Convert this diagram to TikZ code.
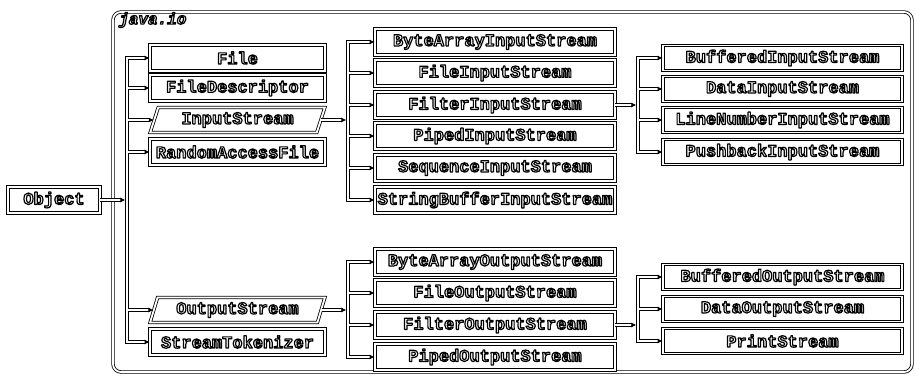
\documentclass[tikz,border=0pt]{standalone}
\usepackage{fontspec}
\setmonofont{Liberation Mono}
\usetikzlibrary{shapes.geometric,arrows.meta}
\newcommand\olt[1]{\special{pdf:code q 1 g 0 G 2 Tr 1.2 w 1 j}#1\special{pdf:code Q}}
\begin{document}
\begin{tikzpicture}[x=1pt,y=-1pt,
  dbl/.style={draw=black,line width=0.8pt,double=white,double distance=1.8pt},
  cls/.style={dbl,rectangle,minimum height=26pt,inner sep=0pt,
    font=\ttfamily\bfseries\fontsize{17}{18}\selectfont},
  lone/.style={cls,minimum width=175pt},
  ltwo/.style={cls,minimum width=240pt},
  lthree/.style={cls,minimum width=239pt,minimum height=25pt},
  absc/.style={cls,trapezium,trapezium left angle=69,trapezium right angle=111,
    trapezium stretches=true,minimum width=175pt,minimum height=25pt},
  conn/.style={dbl,-{Latex[length=5pt,width=5pt]}},
  pkg/.style={dbl,rectangle,rounded corners=8pt,minimum width=799pt,minimum height=360pt},
  pkglabel/.style={font=\ttfamily\bfseries\itshape\fontsize{16}{18}\selectfont,inner sep=0pt,anchor=west}
]
\useasboundingbox (0,0) rectangle (915,375);
\node[pkg] (pkgbox) at (512.5,192) {};
\node[pkglabel] (pkgname) at (119,20) {\olt{java.io}};

\node[cls,minimum width=92pt] (Object) at (54,200) {\olt{Object}};

\node[lone] (File) at (237.5,58) {\olt{File}};
\node[lone] (FileDescriptor) at (237.5,88) {\olt{FileDescriptor}};
\node[absc] (InputStream) at (237.5,120) {\olt{InputStream}};
\node[lone] (RandomAccessFile) at (237.5,152) {\olt{RandomAccessFile}};
\node[absc] (OutputStream) at (237.5,310) {\olt{OutputStream}};
\node[lone] (StreamTokenizer) at (237.5,342) {\olt{StreamTokenizer}};

\node[ltwo] (BAIS) at (495,42) {\olt{ByteArrayInputStream}};
\node[ltwo] (FIS) at (495,73) {\olt{FileInputStream}};
\node[ltwo] (FilterIS) at (495,105) {\olt{FilterInputStream}};
\node[ltwo] (PIS) at (495,136) {\olt{PipedInputStream}};
\node[ltwo] (SIS) at (495,168) {\olt{SequenceInputStream}};
\node[ltwo] (SBIS) at (495,200) {\olt{StringBufferInputStream}};

\node[ltwo] (BAOS) at (495,262) {\olt{ByteArrayOutputStream}};
\node[ltwo] (FOS) at (495,293) {\olt{FileOutputStream}};
\node[ltwo] (FilterOS) at (495,325) {\olt{FilterOutputStream}};
\node[ltwo] (POS) at (495,357) {\olt{PipedOutputStream}};

\node[lthree] (BufIS) at (782.5,58) {\olt{BufferedInputStream}};
\node[lthree] (DIS) at (782.5,89) {\olt{DataInputStream}};
\node[lthree] (LNIS) at (782.5,120) {\olt{LineNumberInputStream}};
\node[lthree] (PBIS) at (782.5,152) {\olt{PushbackInputStream}};

\node[lthree] (BufOS) at (782.5,277) {\olt{BufferedOutputStream}};
\node[lthree] (DOS) at (782.5,309) {\olt{DataOutputStream}};
\node[lthree] (PS) at (782.5,341) {\olt{PrintStream}};

% trunk positions (centre, inner right edge, outer left edge)
\coordinate (ta) at (127,0);   \coordinate (tar) at (127.9,0);  \coordinate (tal) at (125.3,0);
\coordinate (tb) at (348,0);   \coordinate (tbr) at (348.9,0);  \coordinate (tbl) at (346.3,0);
\coordinate (tc) at (638,0);   \coordinate (tcr) at (638.9,0);  \coordinate (tcl) at (636.3,0);

% Object -> java.io classes
\draw[conn] (ta |- Object.east) |- (File.west);
\draw[conn] (ta |- Object.east) |- (StreamTokenizer.west);
\foreach \c in {FileDescriptor,InputStream,RandomAccessFile,OutputStream}
  \draw[conn] (tar |- \c.west) -- (\c.west);
\draw[conn] (Object.east) -- (tal |- Object.east);

% InputStream subclasses
\draw[conn] (tb |- InputStream.east) |- (BAIS.west);
\draw[conn] (tb |- InputStream.east) |- (SBIS.west);
\foreach \c in {FIS,FilterIS,PIS,SIS}
  \draw[conn] (tbr |- \c.west) -- (\c.west);
\draw[conn] (InputStream.east) -- (tbl |- InputStream.east);

% OutputStream subclasses
\draw[conn] (tb |- OutputStream.east) |- (BAOS.west);
\draw[conn] (tb |- OutputStream.east) |- (POS.west);
\foreach \c in {FOS,FilterOS}
  \draw[conn] (tbr |- \c.west) -- (\c.west);
\draw[conn] (OutputStream.east) -- (tbl |- OutputStream.east);

% FilterInputStream subclasses
\draw[conn] (tc |- FilterIS.east) |- (BufIS.west);
\draw[conn] (tc |- FilterIS.east) |- (PBIS.west);
\foreach \c in {DIS,LNIS}
  \draw[conn] (tcr |- \c.west) -- (\c.west);
\draw[conn] (FilterIS.east) -- (tcl |- FilterIS.east);

% FilterOutputStream subclasses
\draw[conn] (tc |- FilterOS.east) |- (BufOS.west);
\draw[conn] (tc |- FilterOS.east) |- (PS.west);
\draw[conn] (tcr |- DOS.west) -- (DOS.west);
\draw[conn] (FilterOS.east) -- (tcl |- FilterOS.east);
\end{tikzpicture}
\end{document}
